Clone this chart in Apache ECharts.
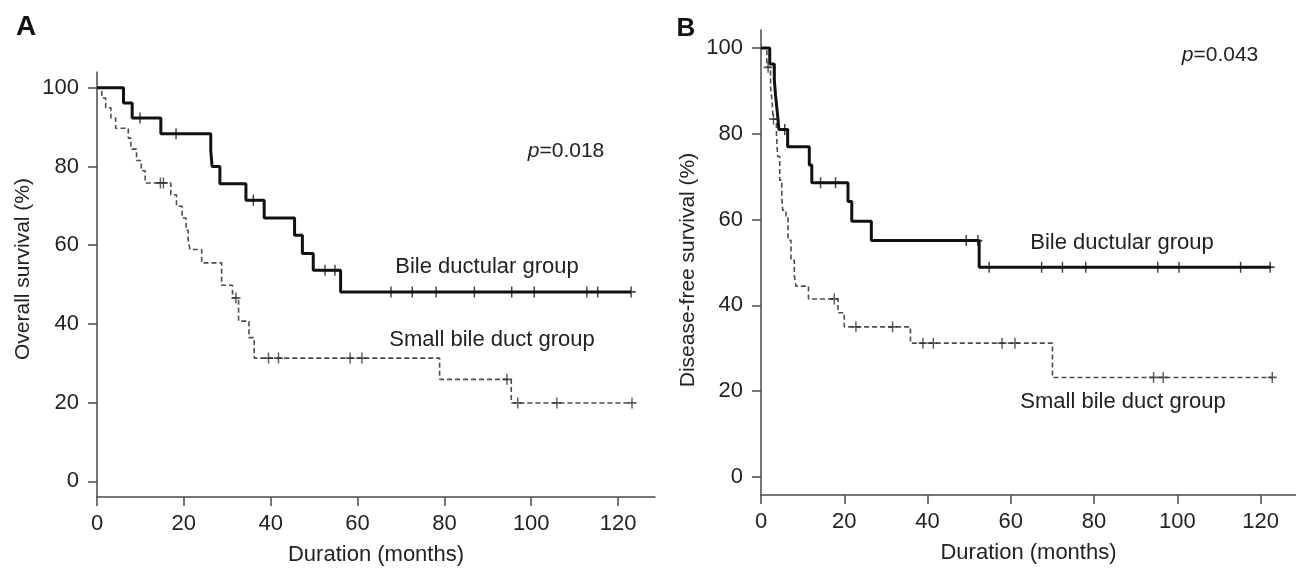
<!DOCTYPE html>
<html><head><meta charset="utf-8">
<script src="https://cdn.jsdelivr.net/npm/echarts@6/dist/echarts.min.js"></script>
<style>html,body{margin:0;padding:0;background:#fff}#c{width:1296px;height:571px}</style>
</head><body><div id="c"></div>
<script>
const xTicks = [0, 20, 40, 60, 80, 100, 120];
const yTicks = [0, 20, 40, 60, 80, 100];

// Panel A: overall survival
const aBileT = [0, 6.1, 8.1, 14.7, 26.2, 26.5, 28.3, 34.3, 38.5, 45.5, 47.3, 49.8, 56.1, 123.0];
const aBileS = [100, 96.1, 92.3, 88.3, 84.0, 80.0, 75.6, 71.4, 66.9, 62.5, 57.9, 53.6, 48.1, 48.1];
const aBileCensor = [9.9, 18.2, 36.0, 52.5, 54.8, 67.7, 72.6, 78.1, 86.9, 95.5, 100.7, 112.8, 115.3, 123.0];
const aSmallT = [0, 1.1, 2.0, 3.2, 4.3, 7.2, 7.8, 9.1, 10.2, 11.1, 17.0, 18.3, 19.6, 20.5, 21.0, 21.4, 24.1, 28.7, 31.2, 32.6, 35.0, 36.2, 78.9, 95.4, 123.2];
const aSmallS = [100, 97.4, 94.9, 92.3, 89.7, 87.2, 84.4, 81.5, 78.9, 75.8, 72.8, 69.9, 66.9, 63.8, 61.3, 58.9, 55.5, 49.8, 46.6, 40.7, 36.5, 31.3, 25.9, 19.9, 19.9];
const aSmallCensor = [14.6, 15.3, 32.0, 39.5, 41.8, 58.3, 61.0, 94.4, 96.9, 105.9, 123.2];

// Panel B: disease-free survival
const bBileT = [0, 2.1, 3.2, 3.5, 3.9, 4.3, 6.4, 11.6, 12.2, 20.9, 21.8, 26.5, 52.4, 122.5];
const bBileS = [100, 96.3, 92.6, 88.9, 85.2, 81.0, 77.0, 72.7, 68.6, 64.2, 59.6, 55.1, 48.9, 48.9];
const bBileCensor = [5.7, 14.3, 17.9, 49.3, 52.1, 54.8, 67.4, 72.4, 78.0, 95.3, 100.4, 115.2, 122.3];
const bSmallT = [0, 1.4, 2.3, 2.7, 2.9, 3.7, 4.0, 4.5, 5.0, 5.2, 6.0, 6.5, 7.2, 8.0, 8.4, 11.4, 18.5, 20.0, 35.9, 70.0, 122.8];
const bSmallS = [100, 95.5, 91.0, 87.0, 83.4, 80.2, 74.7, 69.2, 65.0, 62.2, 60.7, 55.2, 50.5, 47.0, 44.5, 41.5, 38.3, 35.0, 31.2, 23.2, 23.2];
const bSmallCensor = [1.7, 3.0, 17.6, 22.8, 31.6, 38.9, 41.4, 57.9, 61.0, 94.3, 96.6, 122.8];

const FONT = '"Liberation Sans", Arial, Helvetica, sans-serif';
const TXT = '#222';
const AX = '#4a4a4a';
const PLUS = 'path://M-0.16,-1 L0.16,-1 L0.16,-0.16 L1,-0.16 L1,0.16 L0.16,0.16 L0.16,1 L-0.16,1 L-0.16,0.16 L-1,0.16 L-1,-0.16 L-0.16,-0.16 Z';

function pairs(T, S) { return T.map((t, i) => [t, S[i]]); }
function stepAt(T, S, t) { let v = S[0]; for (let i = 0; i < T.length; i++) { if (T[i] <= t) v = S[i]; } return v; }
function censorPts(T, S, C) { return C.map(t => [t, stepAt(T, S, t)]); }

function xAx(idx) {
  return {
    type: 'value', gridIndex: idx, min: 0, max: 128.5,
    axisLine: { show: true, onZero: false, lineStyle: { color: AX, width: 1.5 } },
    axisTick: { show: true, length: 9, customValues: xTicks, lineStyle: { color: AX, width: 1.5 } },
    axisLabel: { customValues: xTicks, fontSize: 22, color: TXT, fontFamily: FONT, margin: 16 },
    splitLine: { show: false },
    name: 'Duration (months)', nameLocation: 'middle', nameGap: 47,
    nameTextStyle: { fontSize: 22, color: TXT, fontFamily: FONT }
  };
}
function yAx(idx, mn, mx) {
  return {
    type: 'value', gridIndex: idx, min: mn, max: mx,
    axisLine: { show: true, onZero: false, lineStyle: { color: AX, width: 1.5 } },
    axisTick: { show: true, length: 9, customValues: yTicks, lineStyle: { color: AX, width: 1.5 } },
    axisLabel: { customValues: yTicks, fontSize: 22, color: TXT, fontFamily: FONT, margin: 18 },
    splitLine: { show: false }
  };
}
function solid(idx, T, S) {
  return { type: 'line', xAxisIndex: idx, yAxisIndex: idx, step: 'end', data: pairs(T, S), symbol: 'none',
    lineStyle: { color: '#111', width: 3 }, z: 3, animation: false };
}
function dashed(idx, T, S) {
  return { type: 'line', xAxisIndex: idx, yAxisIndex: idx, step: 'end', data: pairs(T, S), symbol: 'none',
    lineStyle: { color: '#4d4d4d', width: 1.6, type: [5, 3] }, z: 2, animation: false };
}
function censor(idx, T, S, C, col) {
  return { type: 'scatter', xAxisIndex: idx, yAxisIndex: idx, data: censorPts(T, S, C), symbol: PLUS,
    symbolSize: [9, 11], itemStyle: { color: col }, z: 4, animation: false, silent: true };
}
function txt(x, y, s, size, extra) {
  return Object.assign({ type: 'text', x: x, y: y, silent: true,
    style: Object.assign({ text: s, fontSize: size, fontFamily: FONT, fill: TXT, align: 'center', verticalAlign: 'middle' }, extra || {}) });
}
const RICH = { i: { fontStyle: 'italic', fontSize: 21, fontFamily: FONT, fill: TXT } };

const chart = echarts.init(document.getElementById('c'), null, { renderer: 'canvas' });
chart.setOption({
  backgroundColor: '#fff',
  animation: false,
  grid: [
    { left: 97, top: 72, width: 558, height: 426 },
    { left: 761, top: 30, width: 547, height: 465 }
  ],
  xAxis: [xAx(0), xAx(1)],
  yAxis: [yAx(0, -4, 104), yAx(1, -4.2, 104.2)],
  series: [
    dashed(0, aSmallT, aSmallS), solid(0, aBileT, aBileS),
    censor(0, aSmallT, aSmallS, aSmallCensor, '#333'), censor(0, aBileT, aBileS, aBileCensor, '#111'),
    dashed(1, bSmallT, bSmallS), solid(1, bBileT, bBileS),
    censor(1, bSmallT, bSmallS, bSmallCensor, '#333'), censor(1, bBileT, bBileS, bBileCensor, '#111')
  ],
  graphic: [
    txt(26, 27, 'A', 28, { fontWeight: 'bold', fill: '#111' }),
    txt(686, 29, 'B', 26, { fontWeight: 'bold', fill: '#111' }),
    Object.assign(txt(23, 269, 'Overall survival (%)', 21), { rotation: Math.PI / 2 }),
    Object.assign(txt(688, 270, 'Disease-free survival (%)', 21), { rotation: Math.PI / 2 }),
    txt(566, 151, '{i|p}=0.018', 21, { rich: RICH }),
    txt(1220, 55, '{i|p}=0.043', 21, { rich: RICH }),
    txt(487, 267, 'Bile ductular group', 22),
    txt(492, 340, 'Small bile duct group', 22),
    txt(1122, 243, 'Bile ductular group', 22),
    txt(1123, 402, 'Small bile duct group', 22)
  ]
});
</script></body></html>
